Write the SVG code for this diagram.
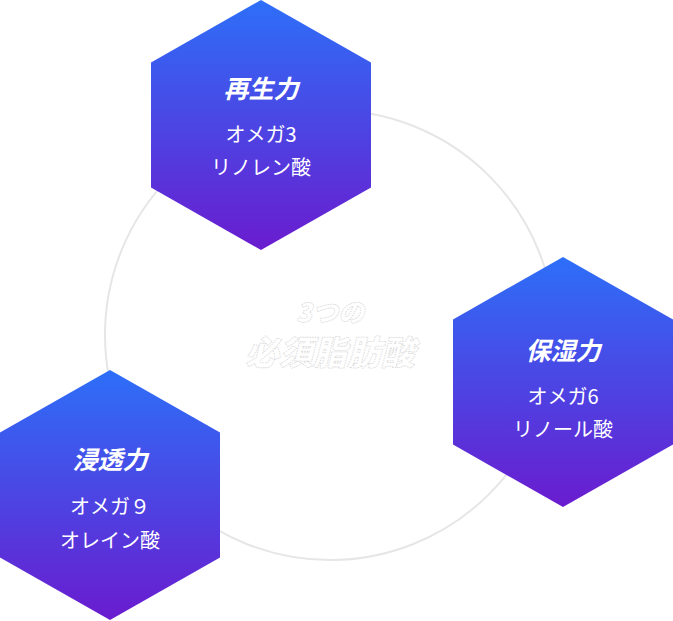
<svg xmlns="http://www.w3.org/2000/svg" width="673" height="621" viewBox="0 0 673 621">
<defs>
<linearGradient id="g" x1="0" y1="0" x2="0" y2="1">
<stop offset="0" stop-color="#2d6ff8"/><stop offset="1" stop-color="#6a1ccf"/>
</linearGradient>
<polygon id="hex" points="0,-125 110,-62.5 110,62.5 0,125 -110,62.5 -110,-62.5"/>
</defs>
<style>
.t{font-family:"Noto Sans CJK JP",sans-serif;font-weight:bold;font-style:italic;font-size:25px;fill:#fff;text-anchor:middle}
.s{font-family:"Noto Sans CJK JP",sans-serif;font-size:20px;fill:#fff;text-anchor:middle}
.c{font-family:"Noto Sans CJK JP",sans-serif;font-weight:900;font-style:italic;fill:#fff;stroke:#d8d8d8;stroke-width:0.8;stroke-dasharray:1.5 1;text-anchor:middle}
</style>
<g id="connectors"><circle cx="330" cy="335" r="225" fill="none" stroke="#e6e6e6" stroke-width="2"/></g>
<g id="center"><text class="c" x="330" y="322" font-size="26">3つの</text><text class="c" x="330" y="365" font-size="34">必須脂肪酸</text></g>
<g id="n1" transform="translate(261,125)"><use href="#hex" fill="url(#g)"/>
<text class="t" y="-27">再生力</text><text class="s" y="17">オメガ3</text><text class="s" y="50">リノレン酸</text></g>
<g id="n2" transform="translate(563,382)"><use href="#hex" fill="url(#g)"/>
<text class="t" y="-22">保湿力</text><text class="s" y="22">オメガ6</text><text class="s" y="55">リノール酸</text></g>
<g id="n3" transform="translate(110,495)"><use href="#hex" fill="url(#g)"/>
<text class="t" y="-26">浸透力</text><text class="s" y="19">オメガ９</text><text class="s" y="53">オレイン酸</text></g>
</svg>
